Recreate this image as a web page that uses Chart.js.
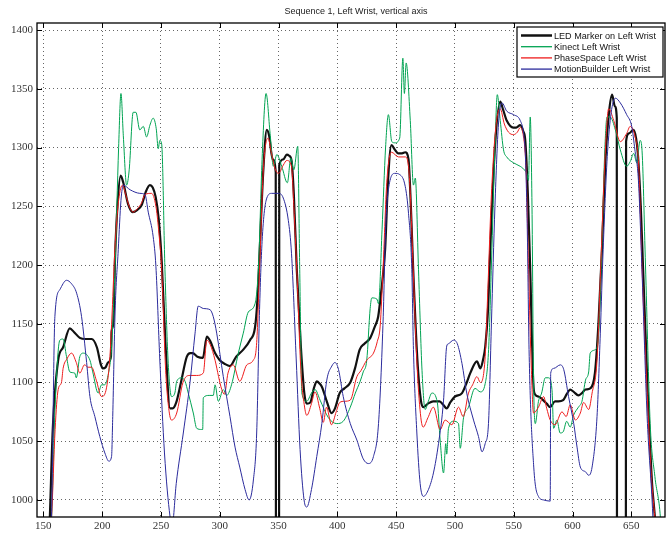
<!DOCTYPE html>
<html>
<head>
<meta charset="utf-8">
<script src="https://cdn.jsdelivr.net/npm/chart.js@4.4.1/dist/chart.umd.min.js"></script>
<style>
  html, body { margin: 0; padding: 0; background: #fff; }
</style>
</head>
<body>
<canvas id="chart" width="667" height="535"></canvas>
<script>
// values
const chartTitle = 'Sequence 1, Left Wrist, vertical axis';
const xTicks = [150, 200, 250, 300, 350, 400, 450, 500, 550, 600, 650];
const yTicks = [1000, 1050, 1100, 1150, 1200, 1250, 1300, 1350, 1400];
const seriesNames = ['LED Marker on Left Wrist', 'Kinect Left Wrist', 'PhaseSpace Left Wrist', 'MotionBuilder Left Wrist'];

// [frame, vertical position]
const ledMarker = [
  [154,950],[155.5,985],[158,1060],[162.6,1119],[166.8,1130],[172.5,1146],[176,1143],[181,1138],[186,1137],[191,1137],
  [195.5,1130],[199,1115],[200.6,1112],[203,1113],[205,1117],[207.5,1122],[208,1143],[209.5,1150],[211,1207],[213,1250],
  [215.7,1276],[218,1270],[222,1252],[226,1245],[230,1247],[233.6,1251],[237,1262],[240.6,1268],[243,1266],[245.5,1258],
  [248,1240],[250.6,1204],[254,1130],[257.7,1078],[260,1078],[263,1083],[267,1100],[272,1122],[275,1125],[277,1125],
  [281,1122],[285.7,1121],[289,1139],[292,1135],[296,1125],[300,1119],[304,1116],[308.7,1114],[314,1122],[320,1128],
  [325.7,1136],[330,1147],[332,1170],[334,1213],[337,1280],[340,1315],[342,1310],[345,1290],[347.6,1279],[347.8,900],
  [350.4,900],[350.6,1285],[354,1290],[357,1294],[359,1293],[361,1289],[363,1260],[365.5,1196],[369,1130],[372,1090],
  [374,1082],[377,1083],[380,1095],[382.5,1101],[385,1099],[387,1096],[391,1084],[395,1074],[398,1078],[402,1091],
  [406,1095],[411,1100],[415,1112],[419,1128],[423,1133],[428,1138],[432,1148],[434.7,1156],[437,1175],[440.6,1213],
  [443,1270],[446,1302],[449,1298],[451.7,1295],[455,1295],[457.7,1296],[460.5,1290],[462.5,1250],[464.5,1196],[468,1120],
  [471,1085],[473,1079],[477,1082],[481.5,1084],[487,1084],[490,1081],[493,1078],[496,1083],[500,1088],[506,1091],
  [510,1100],[513,1108],[518.7,1118],[521.6,1112],[524,1120],[525.7,1130],[528,1160],[530,1213],[534,1300],[538.5,1339],
  [541,1332],[544,1323],[549.6,1317],[552,1317],[555.5,1319],[558,1314],[559.8,1306],[562,1260],[564,1196],[566.6,1100],
  [568,1090],[571,1088],[575,1085],[578,1082],[581,1079],[585,1084],[588,1084],[592,1085],[595,1090],[598,1094],
  [601,1092],[605,1089],[608,1091],[611,1094],[615,1095],[619,1108],[622,1150],[625,1213],[628,1290],[631,1330],
  [633.6,1345],[636,1335],[637.6,1325],[637.8,900],[645.3,900],[645.5,1305],[648,1312],[651.7,1315],[654,1308],[655.5,1295],
  [658,1250],[660,1196],[664,1090],[667.6,1014],[670,985],[672,950]
];

const kinect = [
  [155,960],[157,985],[160,1080],[164,1136],[166.8,1137],[169.7,1122],[172.5,1109],[176.7,1108],[178,1104],[181,1122],
  [184,1125],[189.6,1119],[192,1109],[196.6,1091],[199.5,1098],[202,1098],[205,1106],[208,1130],[211,1200],[214,1300],
  [216,1346],[218,1310],[220.8,1268],[223,1281],[226.4,1330],[228.7,1330],[232,1315],[235,1318],[237.8,1309],[240.6,1319],
  [243.4,1325],[246,1316],[247.7,1299],[249,1306],[250.6,1303],[253.4,1196],[256,1120],[259,1088],[261.8,1091],[263.4,1101],
  [267.6,1104],[270.5,1101],[273.2,1091],[277.5,1074],[280.4,1061],[284.6,1060],[285.5,1060],[286,1087],[291,1089],[294.5,1089],
  [296,1098],[298.8,1084],[303,1094],[305.9,1089],[310,1098],[315.8,1125],[320,1142],[324.3,1160],[330,1167],[333,1200],
  [336,1290],[339.4,1346],[342.8,1312],[345.6,1284],[348.5,1294],[352.7,1284],[357.5,1270],[360.4,1291],[363,1281],[366.3,1301],
  [368,1196],[369.8,1091],[374,1084],[378,1091],[381,1094],[385.3,1085],[392.4,1070],[399.5,1065],[405,1067],[411,1079],
  [415.3,1091],[419.4,1101],[422,1109],[425,1119],[427.9,1163],[429.3,1172],[433.6,1171],[435,1167],[438,1230],[441,1300],
  [443.4,1328],[446.3,1305],[449,1304],[453,1308],[455.7,1376],[457,1346],[458.5,1372],[462,1323],[464.7,1268],[466.3,1274],
  [469,1196],[472,1110],[474.7,1077],[477,1083],[480.4,1091],[485,1083],[487.4,1051],[490.3,1023],[492.2,1048],[493,1039],
  [494.5,1061],[498.8,1067],[503,1065],[504.5,1044],[507.3,1070],[511.5,1079],[517,1095],[521.6,1092],[525.7,1099],[528.6,1128],
  [531,1200],[534,1300],[536,1345],[538.5,1323],[541.3,1298],[544,1292],[549.8,1287],[555.5,1284],[558,1282],[561,1278],
  [562.5,1272],[564,1326],[565.5,1250],[566.8,1105],[568.3,1065],[571,1084],[573.7,1091],[576.8,1104],[579.6,1104],[582.5,1094],
  [583.9,1061],[586.7,1068],[589.4,1057],[592,1058],[595,1067],[598,1062],[600.8,1072],[605,1079],[608,1084],[611,1102],
  [613.7,1109],[615,1125],[619.4,1128],[622.2,1142],[625,1220],[627.5,1300],[629.3,1326],[632,1326],[636.4,1315],[640.6,1298],
  [646,1284],[649,1288],[652,1295],[654.6,1287],[657.4,1306],[658.9,1300],[662,1200],[666,1065],[670,1020],[674.7,985],
  [676,960]
];

const phaseSpace = [
  [155,960],[157,985],[160,1060],[162.6,1094],[165.4,1100],[166.8,1112],[170,1120],[174,1125],[178,1117],[181,1108],
  [185,1115],[188,1113],[191,1113],[195,1102],[199.5,1088],[203.8,1096],[206.6,1122],[208.5,1160],[210.8,1213],[214,1255],
  [217.4,1268],[220,1260],[223,1250],[226.4,1245],[230,1248],[233.6,1253],[236.4,1260],[242,1261],[245.7,1250],[248,1230],
  [250.6,1196],[254,1110],[257,1075],[259,1068],[263.4,1074],[268.7,1100],[274.7,1106],[280.4,1106],[286,1108],[289,1136],
  [292,1132],[296,1119],[299,1105],[301.7,1094],[304,1090],[307,1108],[311.5,1115],[317,1101],[323,1115],[328.5,1119],
  [331.4,1134],[334,1200],[337,1280],[341,1308],[344,1295],[347,1282],[350,1278],[354,1285],[357,1289],[361,1284],
  [363,1250],[365.5,1196],[369,1110],[372,1080],[374,1072],[378,1082],[381,1092],[385,1078],[388,1066],[390.8,1079],
  [395,1064],[399,1075],[402,1083],[406,1084],[411,1085],[416.6,1105],[420,1110],[425,1119],[430.7,1125],[434,1135],
  [436.4,1148],[439,1200],[442,1270],[446,1296],[452,1292],[457.7,1292],[460.5,1284],[462.5,1250],[464.5,1196],[468,1110],
  [471,1070],[473,1062],[477,1070],[481.7,1079],[487.4,1060],[491.7,1068],[497.4,1064],[503,1079],[507,1071],[511.5,1091],
  [515,1098],[518.7,1105],[521.6,1100],[525.7,1122],[528,1180],[531,1260],[535,1320],[538.5,1333],[542,1320],[545.6,1313],
  [549.8,1311],[553,1313],[555.5,1317],[558,1311],[560.5,1280],[562.6,1196],[565,1110],[566.8,1074],[571,1079],[575.4,1088],
  [578,1078],[581,1068],[585,1064],[591,1075],[594.6,1071],[598,1081],[602.4,1068],[606.6,1074],[609.4,1083],[613.7,1077],
  [616.6,1091],[620.8,1119],[624,1200],[627.5,1290],[630.7,1333],[635,1323],[640.6,1305],[646,1312],[649,1318],[653.4,1308],
  [656,1289],[659,1200],[663,1100],[667,1020],[670,985],[672,960]
];

const motionBuilder = [
  [155,960],[157,990],[159.8,1156],[164,1179],[169.7,1187],[174,1184],[178.3,1176],[182.5,1156],[186.8,1117],[189.6,1088],
  [193.8,1071],[198,1054],[202.3,1040],[205.7,1033],[208,1037],[209,1071],[211,1160],[213.7,1213],[216,1255],[218,1268],
  [223.8,1264],[232,1261],[236.4,1260],[239.2,1245],[243.4,1224],[245.7,1199],[249,1120],[253,1040],[257.7,986],[259.5,978],
  [263,1014],[269,1057],[274.7,1100],[279,1142],[281.7,1165],[286,1163],[291.7,1162],[294.5,1156],[297.4,1142],[303,1105],
  [308.7,1071],[313,1045],[317,1028],[321.5,1009],[325,1000],[328.6,1017],[331.4,1057],[333.7,1157],[336,1220],[340,1257],
  [344.2,1261],[350,1261],[354,1257],[358.3,1238],[361,1210],[365,1120],[368.3,1043],[371.7,1000],[374,994],[378,1009],
  [382.5,1037],[386.8,1065],[391,1102],[395.3,1114],[398,1117],[401,1111],[405,1088],[411,1065],[416.6,1051],[422,1035],
  [426.4,1031],[430.7,1037],[435,1065],[439,1156],[441,1230],[443.4,1264],[449,1278],[453,1277],[457.7,1267],[460.5,1244],
  [463.3,1196],[464.7,1128],[467.6,1057],[470.4,1014],[473.2,1003],[477.5,1009],[481.7,1023],[486,1048],[490.3,1085],[493,1131],
  [494.5,1133],[498.8,1136],[502,1133],[506,1116],[510,1091],[515.8,1068],[520,1054],[523,1041],[525.7,1048],[528.5,1065],
  [531,1150],[534,1250],[537,1320],[540,1338],[544,1331],[549.8,1328],[555.5,1323],[558.3,1312],[560,1290],[561.5,1230],
  [563,1128],[567,1028],[571,1003],[575.4,1000],[581,999],[581.4,1108],[584,1112],[589.6,1115],[592.5,1111],[596.6,1088],
  [601,1065],[603.8,1045],[606.6,1028],[611,1024],[613.7,1021],[616.6,1028],[620.8,1071],[623.6,1142],[626,1213],[630,1300],
  [636.4,1342],[640.6,1338],[646,1328],[650.3,1318],[653,1298],[656,1272],[659,1196],[663.4,1071],[667.6,1000],[669,970]
];

const seriesData = [ledMarker, kinect, phaseSpace, motionBuilder];
const seriesColors = ['#111111', '#00a352', '#ee1c1c', '#2b2b9c'];
const seriesWidths = [2.2, 1, 1, 1];

// box, inward ticks, title and legend drawn the MATLAB way
const matlabFrame = {
  id: 'matlabFrame',
  afterDraw(chart) {
    const { ctx, chartArea: a, scales } = chart;
    ctx.save();
    ctx.strokeStyle = '#000';
    ctx.lineWidth = 1;
    ctx.beginPath();
    xTicks.forEach(v => {
      const px = Math.round(scales.x.getPixelForValue(v)) + 0.5;
      ctx.moveTo(px, a.bottom); ctx.lineTo(px, a.bottom - 5);
      ctx.moveTo(px, a.top); ctx.lineTo(px, a.top + 5);
    });
    yTicks.forEach(v => {
      const py = Math.round(scales.y.getPixelForValue(v)) + 0.5;
      ctx.moveTo(a.left, py); ctx.lineTo(a.left + 5, py);
      ctx.moveTo(a.right, py); ctx.lineTo(a.right - 5, py);
    });
    ctx.stroke();
    ctx.lineWidth = 1.3;
    ctx.strokeRect(a.left, a.top, a.right - a.left, a.bottom - a.top);

    ctx.fillStyle = '#222';
    ctx.font = '9px "Liberation Sans", Arial, sans-serif';
    ctx.textAlign = 'center';
    ctx.textBaseline = 'middle';
    ctx.fillText(chartTitle, 356, 12);

    // legend
    const lx = 517, ly = 27, lw = 146, lh = 50;
    ctx.fillStyle = '#fff';
    ctx.fillRect(lx, ly, lw, lh);
    ctx.lineWidth = 1.2;
    ctx.strokeStyle = '#000';
    ctx.strokeRect(lx, ly, lw, lh);
    ctx.textAlign = 'left';
    ctx.font = '9.1px "Liberation Sans", Arial, sans-serif';
    seriesNames.forEach((name, i) => {
      const y = ly + 8.5 + i * 11.2;
      ctx.strokeStyle = seriesColors[i];
      ctx.lineWidth = seriesWidths[i] + 0.3;
      ctx.beginPath();
      ctx.moveTo(lx + 4, y); ctx.lineTo(lx + 35, y);
      ctx.stroke();
      ctx.fillStyle = '#111';
      ctx.fillText(name, lx + 37, y + 0.5);
    });
    ctx.restore();
  }
};

new Chart(document.getElementById('chart'), {
  type: 'line',
  data: {
    datasets: seriesNames.map((name, i) => ({
      label: name,
      data: seriesData[i].map(p => ({ x: p[0], y: p[1] })),
      borderColor: seriesColors[i],
      borderWidth: seriesWidths[i],
      pointRadius: 0,
      cubicInterpolationMode: 'monotone',
      order: 4 - i
    }))
  },
  options: {
    responsive: false,
    animation: false,
    events: [],
    layout: { padding: { top: 23, right: 2, left: 0, bottom: 0 } },
    plugins: {
      legend: { display: false },
      title: { display: false },
      tooltip: { enabled: false }
    },
    scales: {
      x: {
        type: 'linear',
        min: 144.6,
        max: 678.6,
        afterBuildTicks: s => { s.ticks = xTicks.map(v => ({ value: v })); },
        afterFit: s => { s.height = 18; },
        grid: { color: '#666', lineWidth: 1, drawTicks: false },
        border: { display: false, dash: [1, 3] },
        ticks: {
          autoSkip: false, maxRotation: 0, padding: 3,
          color: '#333',
          callback: v => String(v),
          font: { family: '"Liberation Serif", "Times New Roman", serif', size: 11 }
        }
      },
      y: {
        min: 985.5,
        max: 1406,
        afterBuildTicks: s => { s.ticks = yTicks.map(v => ({ value: v })); },
        afterFit: s => { s.width = 37; },
        grid: { color: '#666', lineWidth: 1, drawTicks: false },
        border: { display: false, dash: [1, 3] },
        ticks: {
          autoSkip: false, padding: 4,
          color: '#333',
          callback: v => String(v),
          font: { family: '"Liberation Serif", "Times New Roman", serif', size: 11 }
        }
      }
    }
  },
  plugins: [matlabFrame]
});
</script>
</body>
</html>
